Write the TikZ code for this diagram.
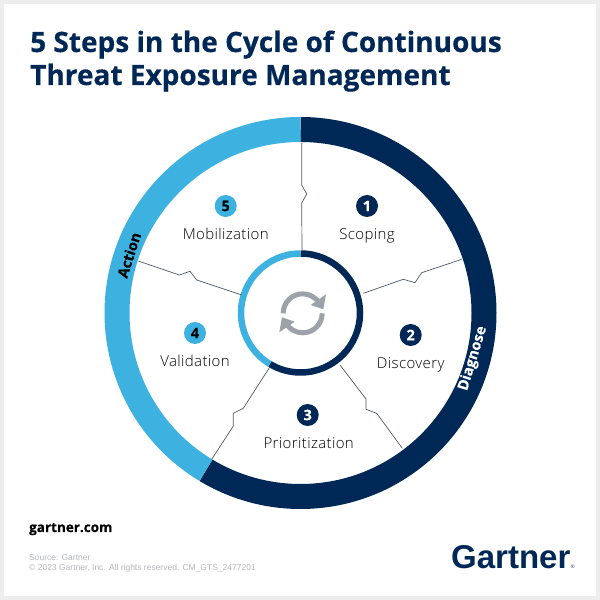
\documentclass[tikz,border=0pt]{standalone}
\usepackage{fontspec}
\setmainfont{Liberation Sans}
\newfontfamily\labelfont[UprightFont=* Light,LetterSpace=2.5]{Open Sans}
\newfontfamily\headfont[BoldFeatures={FakeBold=0.35}]{Open Sans}
\usepackage{xcolor}
\usetikzlibrary{positioning}
\definecolor{navy}{HTML}{002856}
\definecolor{sky}{HTML}{3DB1E0}
\definecolor{cardgray}{HTML}{EDEDED}
\definecolor{icongray}{HTML}{9DA2A9}
\definecolor{sepgray}{HTML}{505866}
\definecolor{sourcegray}{HTML}{B4B7BB}
\tikzset{
  badge/.style={circle,minimum size=22pt,inner sep=0pt,font=\headfont\fontsize{14.5}{14.5}\selectfont\bfseries},
  badgedark/.style={badge,fill=navy,text=white},
  badgelight/.style={badge,fill=sky,text=black},
  steplabel/.style={font=\labelfont\fontsize{15}{15}\selectfont,text=black,inner sep=0pt,text height=11pt,text depth=3pt},
  titleline/.style={anchor=base west,inner sep=0pt,text=navy,font=\headfont\fontsize{28}{28}\selectfont\bfseries},
  sepline/.style={sepgray,line width=0.7pt},
  ringlabel/.style={inner sep=0pt,font=\headfont\fontsize{14.5}{14.5}\selectfont\bfseries},
  sourceline/.style={anchor=base west,inner sep=0pt,text=sourcegray,font=\fontsize{8.5}{8.5}\selectfont}
}
\begin{document}
\begin{tikzpicture}[x=1pt,y=1pt]
\useasboundingbox (0,0) rectangle (600,600);
\fill[cardgray] (0,0) rectangle (600,600);
\fill[white] (4,4) rectangle (596,596);
\coordinate (centre) at (300.5,287);

%title
\node[titleline](titleone) at (30,548){5 Steps in the Cycle of Continuous};
\node[titleline](titletwo) at (30,515){Threat Exposure Management};

%rings
\draw[navy,line width=25pt] (centre) ++(90:183.5pt) arc (90:-121:183.5pt);
\draw[sky,line width=25pt] (centre) ++(90:183.5pt) arc (90:239:183.5pt);
\draw[navy,line width=6.5pt] (centre) ++(90:59.5pt) arc (90:-121:59.5pt);
\draw[sky,line width=6.5pt] (centre) ++(90:59.5pt) arc (90:239:59.5pt);

\node[ringlabel,text=white,rotate=73](diagnose) at (473,241.5){Diagnose};
\node[ringlabel,text=black,rotate=72](action) at (129,345){Action};

%separators
\coordinate (topouter) at (301.7,457);
\coordinate (topinner) at (302,350);
\coordinate (rightouter) at (461.7,340.7);
\coordinate (rightinner) at (363.3,306.7);
\coordinate (leftouter) at (138.3,339);
\coordinate (leftinner) at (241.7,305);
\coordinate (lowrightinner) at (340,235);
\coordinate (lowrightouter) at (402.3,151.7);
\coordinate (lowleftinner) at (270,233.3);
\coordinate (lowleftouter) at (211.7,140.7);
\draw[sepline] (topouter) -- (301.7,415) -- (306.7,406) -- (301.7,397) -- (topinner);
\draw[sepline] (rightouter) -- (421.7,327.3) -- (415,317.3) -- (403.3,320.7) -- (rightinner);
\draw[sepline] (leftouter) -- (179.3,325) -- (190,328.7) -- (196.7,320) -- (leftinner);
\draw[sepline] (lowrightinner) -- (366,201) -- (366,190.7) -- (376.7,186.7) -- (lowrightouter);
\draw[sepline] (lowleftinner) -- (243.3,191.7) -- (233.3,186.7) -- (233.3,174) -- (lowleftouter);

%steps
\node[badgedark](one) at (367,394){1};
\node[steplabel,below = 11.5pt of one](scoping){Scoping};
\node[badgedark](two) at (410.7,265){2};
\node[steplabel,below = 11.5pt of two](discovery){Discovery};
\node[badgedark](three) at (307.7,185){3};
\node[steplabel,below = 11.5pt of three,xshift=1pt](prioritization){Prioritization};
\node[badgelight](four) at (195,267){4};
\node[steplabel,below = 11.5pt of four](validation){Validation};
\node[badgelight](five) at (225.7,394){5};
\node[steplabel,below = 11.5pt of five](mobilization){Mobilization};

%refresh icon
\coordinate (iconcentre) at (302.7,286.7);
\draw[icongray,line width=5pt] (iconcentre) ++(180:19.5pt) arc (180:30:19.5pt);
\draw[icongray,line width=5pt] (iconcentre) ++(0:19.5pt) arc (0:-150:19.5pt);
\fill[icongray] (326,305.7) -- (323.3,290.7) -- (310.7,295) -- cycle;
\fill[icongray] (279.3,267.7) -- (282,282.7) -- (294.7,278.3) -- cycle;

%footer
\node[anchor=base west,inner sep=0pt,text=black,font=\headfont\fontsize{13.5}{13.5}\selectfont\bfseries](site) at (29,68){gartner.com};
\node[sourceline](source) at (29,39){Source: Gartner};
\node[sourceline](rights) at (29,29){\textcopyright{} 2023 Gartner, Inc. All rights reserved. CM\_GTS\_2477201};
\node[anchor=base west,inner sep=0pt,text=navy,font=\fontsize{33}{33}\selectfont\bfseries](logo) at (451,31){Gartner};
\node[inner sep=0pt,text=navy,font=\fontsize{5}{5}\selectfont,anchor=base west](mark) at (logo.base east){\textregistered};
\end{tikzpicture}
\end{document}
